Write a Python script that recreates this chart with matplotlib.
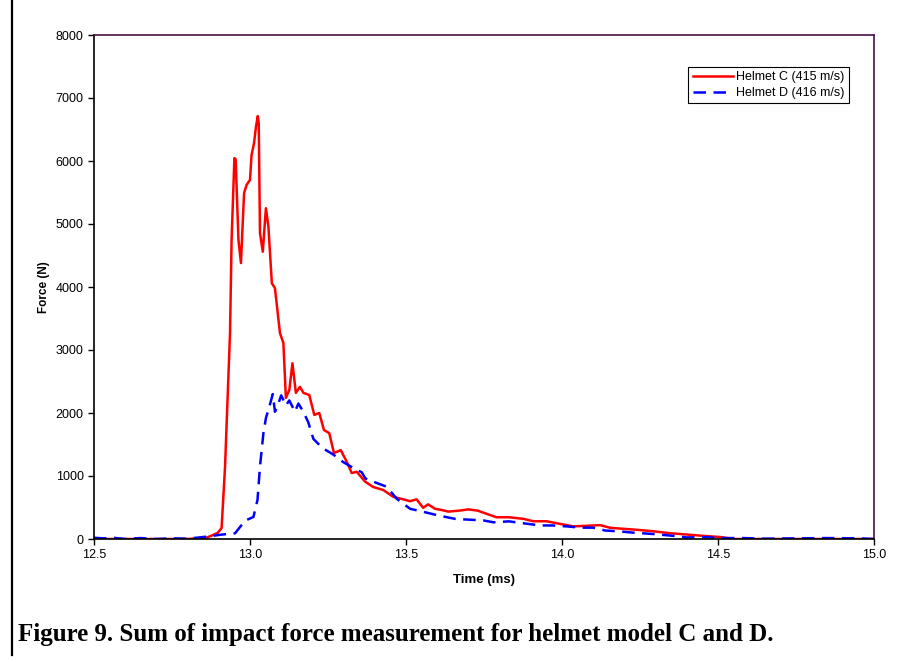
import matplotlib
matplotlib.use('Agg')
import matplotlib.pyplot as plt

# Helmet C (415 m/s)
tC = [12.50, 12.60, 12.70, 12.80, 12.86, 12.88, 12.897, 12.909, 12.92, 12.936, 12.941,
      12.950, 12.954, 12.963, 12.971, 12.981, 12.989, 13.000, 13.005, 13.013, 13.019,
      13.025, 13.028, 13.032, 13.041, 13.051, 13.059, 13.070, 13.080, 13.096, 13.107,
      13.115, 13.126, 13.136, 13.147, 13.160, 13.171, 13.190, 13.206, 13.222, 13.237,
      13.254, 13.269, 13.291, 13.310, 13.326, 13.342, 13.369, 13.395, 13.427, 13.459,
      13.491, 13.513, 13.534, 13.555, 13.571, 13.593, 13.614, 13.636, 13.670, 13.700,
      13.730, 13.758, 13.790, 13.830, 13.876, 13.908, 13.950, 13.994, 14.036, 14.080,
      14.122, 14.154, 14.196, 14.240, 14.290, 14.346, 14.400, 14.453, 14.510, 14.550,
      14.700, 14.850, 15.000]
fC = [0, 0, 0, 0, 20, 60, 100, 175, 1148, 3270, 4745,
      6046, 6030, 4745, 4380, 5490, 5620, 5700, 6095, 6285, 6540,
      6713, 6600, 4857, 4560, 5250, 4960, 4060, 3980, 3270, 3110,
      2240, 2365, 2790, 2320, 2415, 2320, 2285, 1970, 2000, 1730,
      1680, 1365, 1410, 1227, 1047, 1068, 910, 825, 778, 670,
      630, 600, 630, 495, 550, 480, 460, 435, 450, 470,
      450, 400, 345, 345, 320, 282, 282, 240, 200, 210,
      220, 178, 162, 146, 124, 92, 71, 50, 30, 0,
      0, 0, 0]

# Helmet D (416 m/s)
tD = [12.50, 12.53, 12.56, 12.60, 12.65, 12.70, 12.75, 12.80, 12.866, 12.909, 12.952,
      12.984, 13.011, 13.024, 13.032, 13.043, 13.051, 13.062, 13.073, 13.080, 13.091,
      13.100, 13.115, 13.126, 13.144, 13.155, 13.171, 13.187, 13.203, 13.219, 13.237,
      13.267, 13.299, 13.337, 13.358, 13.370, 13.411, 13.438, 13.470, 13.513, 13.561,
      13.604, 13.657, 13.690, 13.748, 13.780, 13.830, 13.876, 13.930, 13.970, 14.015,
      14.060, 14.100, 14.138, 14.186, 14.230, 14.290, 14.357, 14.400, 14.460, 14.510,
      14.580, 14.650, 14.750, 14.850, 14.950, 15.000]
fD = [20, 10, 20, 0, 15, 0, 10, 5, 40, 70, 90,
      290, 350, 620, 1150, 1680, 1920, 2100, 2300, 2020, 2150,
      2280, 2120, 2200, 2020, 2150, 2020, 1850, 1590, 1510, 1430,
      1340, 1220, 1110, 1060, 960, 880, 830, 640, 480, 425,
      373, 320, 310, 295, 265, 280, 250, 215, 215, 200,
      180, 180, 135, 120, 100, 80, 50, 25, 30, 15,
      15, 5, 10, 15, 10, 0]

xticks = [12.5, 13.0, 13.5, 14.0, 14.5, 15.0]
yticks = [0, 1000, 2000, 3000, 4000, 5000, 6000, 7000, 8000]

plt.rcParams['font.family'] = ['Liberation Sans', 'DejaVu Sans']

fig = plt.figure(figsize=(9.14, 6.62), dpi=100)
ax = fig.add_axes([94/914, 1-539/662, 780/914, 504/662])

ax.plot(tC, fC, color='#ff0000', lw=1.8, label='Helmet C (415 m/s)')
ax.plot(tD, fD, color='#0000ff', lw=1.8, linestyle=(0, (5, 3)), label='Helmet D (416 m/s)')

ax.set_xlim(12.5, 15.0)
ax.set_ylim(0, 8000)
ax.set_xticks(xticks)
ax.set_xticklabels(['%.1f' % v for v in xticks])
ax.set_yticks(yticks)
ax.tick_params(labelsize=9, direction='out', length=4, width=1)
ax.set_xlabel('Time (ms)', fontsize=9.5, fontweight='bold', labelpad=9)
ax.set_ylabel('Force (N)', fontsize=8.5, fontweight='bold', labelpad=4)

for s in ['left', 'bottom']:
    ax.spines[s].set_color('black')
    ax.spines[s].set_linewidth(1.2)
for s in ['top', 'right']:
    ax.spines[s].set_color('#4a104a')
    ax.spines[s].set_linewidth(1.2)

leg = ax.legend(loc='upper right', bbox_to_anchor=(0.968, 0.937), fontsize=9,
                frameon=True, fancybox=False, edgecolor='black', framealpha=1,
                handlelength=3.2, handletextpad=0.3, borderpad=0.35,
                labelspacing=0.3, borderaxespad=0)
leg.get_frame().set_linewidth(0.8)

# left border line of the figure box
fig.add_artist(plt.Line2D([12/914, 12/914], [1-655/662, 1.0], color='black', lw=1.6))

fig.text(18/914, 1-641/662, 'Figure 9. Sum of impact force measurement for helmet model C and D.',
         fontsize=18, fontweight='bold', family=['Liberation Serif', 'DejaVu Serif'],
         ha='left', va='baseline')

fig.savefig('out.png', dpi=100)
